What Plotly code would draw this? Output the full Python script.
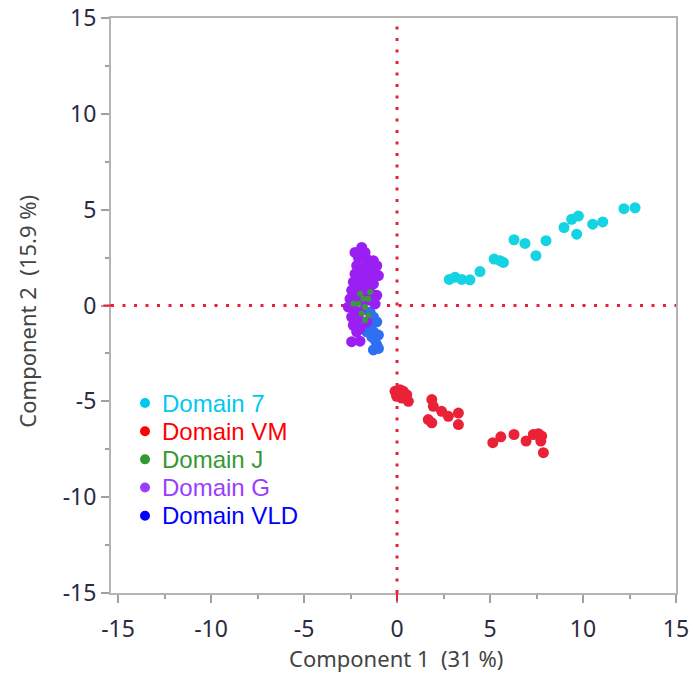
import plotly.graph_objects as go

# ---------------- data ----------------
d7_x = [2.81, 3.12, 3.48, 3.92, 4.46, 5.22, 5.54, 5.72, 6.29, 6.88, 7.47, 8.01, 8.98, 9.39, 9.75, 9.66, 10.52, 11.06, 12.20, 12.80]
d7_y = [1.36, 1.48, 1.36, 1.34, 1.77, 2.42, 2.34, 2.25, 3.43, 3.24, 2.60, 3.38, 4.07, 4.50, 4.67, 3.72, 4.24, 4.36, 5.05, 5.10]

vm_x = [-0.11, 0.16, 0.34, -0.02, 0.25, 0.52, 0.61, 1.87, 1.95, 2.40, 2.76, 3.30, 3.30, 1.68, 1.87, 5.15, 5.58, 6.29, 6.94, 7.33, 7.60, 7.78, 7.73, 7.87]
vm_y = [-4.48, -4.39, -4.48, -4.74, -4.83, -4.65, -5.00, -4.91, -5.26, -5.52, -5.78, -5.61, -6.21, -5.95, -6.12, -7.16, -6.85, -6.73, -7.07, -6.73, -6.69, -6.81, -7.07, -7.68]

g_x = [-1.90, -2.08, -1.63, -1.27, -2.17, -1.81, -1.45, -1.09, -2.26, -1.90, -1.54, -1.18, -2.35, -1.99, -1.63, -1.27,
       -2.44, -2.08, -1.72, -1.36, -1.09, -2.53, -2.17, -1.81, -1.45, -1.18, -2.62, -2.35, -1.99, -2.44, -2.08, -2.35,
       -1.99, -2.17, -1.63, -2.44, -1.99, -1.00, -2.26, -1.72]
g_y = [3.03, 2.51, 2.42, 2.34, 2.08, 1.99, 1.91, 2.08, 1.65, 1.56, 1.48, 1.56, 1.22, 1.13, 1.05, 1.13,
       0.79, 0.70, 0.70, 0.61, 0.53, 0.35, 0.27, 0.18, 0.27, 0.09, -0.08, -0.17, -0.34, -0.60, -0.68, -1.03,
       -1.20, -1.37, -0.85, -1.89, -1.86, 1.56, 2.77, 2.77]

vld_x = [-1.45, -1.27, -1.09, -1.45, -1.63, -1.27, -1.00, -1.18, -1.09, -1.27, -1.00, -1.36]
vld_y = [-0.34, -0.60, -0.85, -1.03, -1.37, -1.37, -1.54, -1.80, -2.06, -2.32, -2.24, -1.63]

j_x = [-1.99, -1.81, -2.08, -1.72, -2.35, -1.90, -1.54, -1.72, -1.45, -1.54]
j_y = [0.61, 0.35, 0.09, -0.08, 0.09, -0.42, -0.51, -0.77, 0.70, 0.35]

legend_names = ["Domain 7", "Domain VM", "Domain J", "Domain G", "Domain VLD"]
legend_colors = ["#00c8f0", "#ff0000", "#339933", "#9b3dff", "#0000ff"]

x_range = [-15.38, 15]
y_range = [-15, 15]
tick_vals = [-15, -10, -5, 0, 5, 10, 15]
tick_text = ["-15", "-10", "-5", "0", "5", "10", "15"]

# ---------------- figure ----------------
fig = go.Figure()

def pts(x, y, color, size=11):
    fig.add_trace(go.Scatter(x=x, y=y, mode="markers", showlegend=False,
                             marker=dict(color=color, size=size, line=dict(width=0)),
                             hoverinfo="skip"))

pts(d7_x, d7_y, "#14d3e2")
pts(vm_x, vm_y, "#ea2238")
pts(vld_x, vld_y, "#2f6ff2")
pts(g_x, g_y, "#9a1ff2")
pts(j_x, j_y, "#3a9a3a", size=6)

dot_col = "#e8203a"
fig.add_shape(type="line", xref="x", yref="y", x0=0, x1=0, y0=y_range[0], y1=y_range[1],
              line=dict(color=dot_col, width=3, dash="3px,8.5px"), layer="below")
fig.add_shape(type="line", xref="x", yref="y", x0=x_range[0], x1=x_range[1], y0=0, y1=0,
              line=dict(color=dot_col, width=3, dash="3px,8.5px"), layer="below")
# red ticks at zero
fig.add_shape(type="line", xref="x", yref="paper", x0=0, x1=0, y0=0, y1=-0.014,
              line=dict(color=dot_col, width=2))
fig.add_shape(type="line", xref="paper", yref="y", x0=-0.0135, x1=0, y0=0, y1=0,
              line=dict(color=dot_col, width=2))

# manual legend (bullet + coloured text)
for i, (nm, col) in enumerate(zip(legend_names, legend_colors)):
    yy = 0.3304 - i * 0.0490
    fig.add_shape(type="circle", xref="paper", yref="paper",
                  xsizemode="pixel", ysizemode="pixel", xanchor=0.0602, yanchor=yy,
                  x0=-5, x1=5, y0=-5, y1=5, fillcolor=col, line=dict(width=0))
    fig.add_annotation(text=nm, xref="paper", yref="paper", x=0.0867, y=yy,
                       xanchor="left", yanchor="middle", showarrow=False,
                       font=dict(family="Liberation Sans", size=24, color=col))

axis_common = dict(
    showgrid=False, zeroline=False, showline=True, mirror=True, automargin=False,
    linecolor="#b4b4b4", linewidth=2,
    ticks="outside", ticklen=8, tickwidth=1.5, tickcolor="#a0a0a0",
    tickfont=dict(family="Noto Sans", size=23, color="#2a2a40"),
    tickvals=tick_vals, ticktext=tick_text, ticklabeloverflow="allow",
    minor=dict(ticks="outside", dtick=2.5, tick0=0, ticklen=4, tickwidth=1.5, tickcolor="#a0a0a0"),
)

fig.update_xaxes(range=x_range, ticklabelstandoff=6, **axis_common)
fig.update_yaxes(range=y_range, **axis_common)

fig.add_annotation(text="Component 1  (31 %)", xref="paper", yref="paper", x=0.504, y=-0.113,
                   xanchor="center", yanchor="middle", showarrow=False,
                   font=dict(family="Noto Sans", size=22, color="#444444"))
fig.add_annotation(text="Component 2  (15.9 %)", xref="paper", yref="paper", x=-0.148, y=0.49,
                   xanchor="center", yanchor="middle", showarrow=False, textangle=-90,
                   font=dict(family="Noto Sans", size=22, color="#444444"))

fig.update_layout(
    width=693, height=673,
    margin=dict(l=111, r=17, t=18, b=80),
    paper_bgcolor="white", plot_bgcolor="white",
    showlegend=False,
)

fig.write_html("out.html")
